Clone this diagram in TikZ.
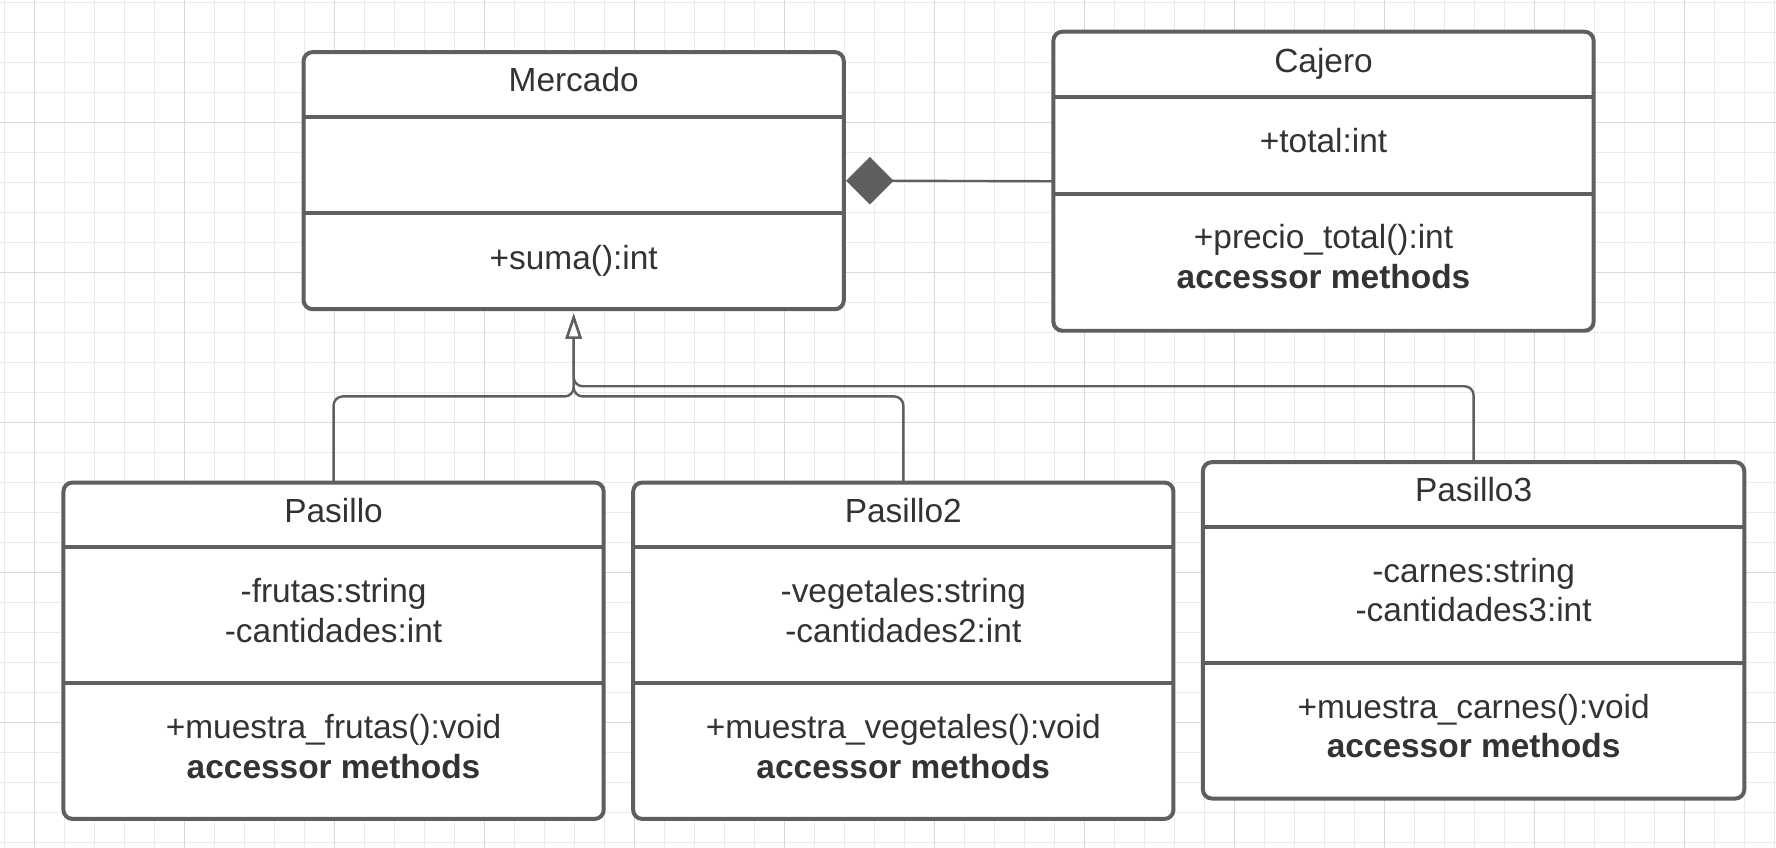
\documentclass[tikz,border=0pt]{standalone}
\usepackage{fontspec}
\setmainfont{Liberation Sans}
\usetikzlibrary{arrows.meta}

\definecolor{umlline}{HTML}{5F5F5F}
\definecolor{umltext}{HTML}{333333}
\definecolor{gridminor}{HTML}{EBEBEB}
\definecolor{gridmajor}{HTML}{D9D9D9}

\tikzset{
    classbox/.style={draw=umlline, line width=1pt, fill=white, rounded corners=0.08cm,
        minimum width=4.77cm, inner sep=0pt, outer sep=0pt},
    divider/.style={draw=umlline, line width=1pt},
    member/.style={text=umltext, font=\fontsize{8.4}{10}\selectfont, align=center, inner sep=0pt},
    inherit/.style={draw=umlline, line width=0.6pt, rounded corners=0.08cm,
        -{Triangle[fill=white, length=0.22cm, width=0.14cm]}, shorten >=0.04cm},
    compose/.style={draw=umlline, line width=0.6pt, -{Diamond[length=0.42cm, width=0.42cm]}, shorten >=0.02cm},
}

\begin{document}
\begin{tikzpicture}
            % page is 15.68 x 7.49, top left at 0
            \useasboundingbox (0,0) rectangle (15.68,-7.4866);
            \fill[white] (0,0) rectangle (15.68,-7.4866);
            \begin{scope}
                \clip (0,0) rectangle (15.68,-7.4866);
                \draw[gridminor, line width=0.3pt, xshift=0.038cm, yshift=-0.020cm, step=0.2649cm] (-0.5,-8) grid (16,0.5);
                \draw[gridmajor, line width=0.3pt, xshift=0.303cm, yshift=-1.080cm, step=1.3245cm] (-1.5,-8) grid (16,1.5);
            \end{scope}

            % Mercado
            \node[classbox, minimum height=2.27cm] (mercado) at (5.065,-1.595) {};
            \draw[divider] ([yshift=-0.57cm]mercado.north west) -- ([yshift=-0.57cm]mercado.north east);
            \draw[divider] ([yshift=-1.42cm]mercado.north west) -- ([yshift=-1.42cm]mercado.north east);
            \node[member] (mercado-title) at (5.065,-0.705) {Mercado};
            \node[member] (mercado-ops) at (5.065,-2.30) {+suma():int};

            % Cajero
            \node[classbox, minimum height=2.64cm] (cajero) at (11.685,-1.60) {};
            \draw[divider] ([yshift=-0.58cm]cajero.north west) -- ([yshift=-0.58cm]cajero.north east);
            \draw[divider] ([yshift=-1.43cm]cajero.north west) -- ([yshift=-1.43cm]cajero.north east);
            \node[member] (cajero-title) at (11.685,-0.56) {Cajero};
            \node[member] (cajero-attrs) at (11.685,-1.245) {+total:int};
            \node[member] (cajero-ops) at (11.685,-2.265) {+precio\_total():int\\\textbf{accessor methods}};

            % Pasillo
            \node[classbox, minimum height=2.97cm] (pasillo) at (2.945,-5.745) {};
            \draw[divider] ([yshift=-0.57cm]pasillo.north west) -- ([yshift=-0.57cm]pasillo.north east);
            \draw[divider] ([yshift=-1.77cm]pasillo.north west) -- ([yshift=-1.77cm]pasillo.north east);
            \node[member] (pasillo-title) at (2.945,-4.505) {Pasillo};
            \node[member] (pasillo-attrs) at (2.945,-5.39) {-frutas:string\\-cantidades:int};
            \node[member] (pasillo-ops) at (2.945,-6.59) {+muestra\_frutas():void\\\textbf{accessor methods}};

            % Pasillo2
            \node[classbox, minimum height=2.97cm] (pasillo2) at (7.975,-5.745) {};
            \draw[divider] ([yshift=-0.57cm]pasillo2.north west) -- ([yshift=-0.57cm]pasillo2.north east);
            \draw[divider] ([yshift=-1.77cm]pasillo2.north west) -- ([yshift=-1.77cm]pasillo2.north east);
            \node[member] (pasillo2-title) at (7.975,-4.505) {Pasillo2};
            \node[member] (pasillo2-attrs) at (7.975,-5.39) {-vegetales:string\\-cantidades2:int};
            \node[member] (pasillo2-ops) at (7.975,-6.59) {+muestra\_vegetales():void\\\textbf{accessor methods}};

            % Pasillo3
            \node[classbox, minimum width=4.78cm, minimum height=2.97cm] (pasillo3) at (13.01,-5.565) {};
            \draw[divider] ([yshift=-0.57cm]pasillo3.north west) -- ([yshift=-0.57cm]pasillo3.north east);
            \draw[divider] ([yshift=-1.77cm]pasillo3.north west) -- ([yshift=-1.77cm]pasillo3.north east);
            \node[member] (pasillo3-title) at (13.01,-4.325) {Pasillo3};
            \node[member] (pasillo3-attrs) at (13.01,-5.21) {-carnes:string\\-cantidades3:int};
            \node[member] (pasillo3-ops) at (13.01,-6.41) {+muestra\_carnes():void\\\textbf{accessor methods}};

            % relations
            \draw[inherit] (pasillo.north) -- ++(0,0.76) -| (mercado.south);
            \draw[inherit] (pasillo2.north) -- ++(0,0.76) -| (mercado.south);
            \draw[inherit] (pasillo3.north) -- ++(0,0.67) -| (mercado.south);
            \draw[compose] (cajero.west) -- (mercado.east);
        \end{tikzpicture}
\end{document}
